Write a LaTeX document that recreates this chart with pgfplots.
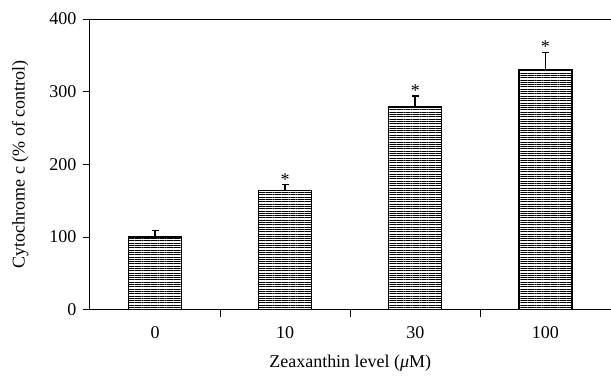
\documentclass[border=0pt]{standalone}
\usepackage{fontspec}
\setmainfont{Liberation Serif}
\usepackage{pgfplots}
\pgfplotsset{compat=1.18}
\usetikzlibrary{patterns.meta}
\begin{document}
\begin{tikzpicture}
\begin{axis}[
  scale only axis,
  width=521pt, height=291pt,
  xmin=-0.5, xmax=3.5,
  ymin=0, ymax=400,
  axis x line*=box, axis y line*=left,
  xtick pos=lower, ytick pos=left,
  xtick={0.5,1.5,2.5}, xticklabels={},
  extra x ticks={0,1,2,3}, extra x tick labels={0,10,30,100},
  extra x tick style={major tick length=0pt, xticklabel style={yshift=-13pt}},
  ytick={0,100,200,300,400},
  yticklabel style={xshift=-3pt},
  tick align=outside,
  major tick length=7pt,
  tick style={black, line width=0.9pt},
  axis line style={line width=0.9pt},
  ticklabel style={font=\fontsize{18}{20}\selectfont},
  label style={font=\fontsize{18}{20}\selectfont},
  /pgf/number format/assume math mode=true,
  xlabel={Zeaxanthin level (\textit{μ}M)},
  ylabel={Cytochrome c (\% of control)},
  xlabel style={yshift=-3pt},
  ylabel style={yshift=14pt},
  clip=false,
]
\addplot[ybar, bar width=53pt, draw=black, line width=1.3pt,
  pattern={Lines[angle=0,distance=2.3pt,line width=0.8pt]},
  error bars/.cd, y dir=plus, y explicit,
  error bar style={line width=1.8pt, black},
  error mark options={rotate=90, mark size=3.5pt, line width=1.4pt}]
coordinates {
(0,100) +- (0,9)
(1,164) +- (0,8)
(2,279) +- (0,15)
(3,330) +- (0,24)
};
\addplot[draw=none, mark=none, nodes near coords={*},
  nodes near coords style={font=\fontsize{18}{20}\selectfont, anchor=south, yshift=-4pt}]
coordinates {(1,172) (2,294) (3,354)};
\end{axis}
\path (current axis.north east) ++(0pt,19pt);
\path (current axis.south west) ++(-90pt,-69pt);
\end{tikzpicture}
\end{document}
